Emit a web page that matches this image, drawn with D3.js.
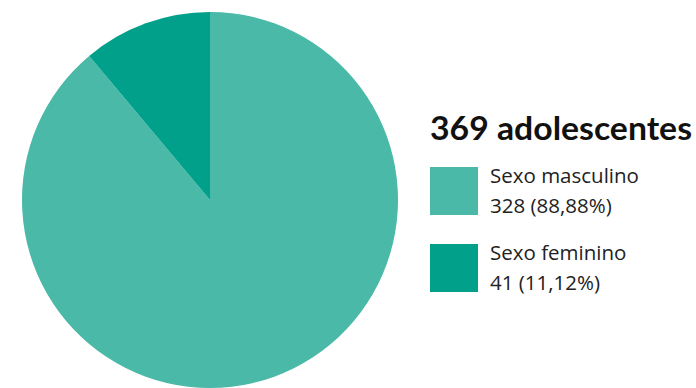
<!DOCTYPE html>
<html>
<head>
  <meta charset="utf-8">
  <script src="https://cdn.jsdelivr.net/npm/d3@7"></script>
  <style>
    html, body { margin: 0; padding: 0; background: #fff; }
    svg { display: block; font-family: "Open Sans", Lato, sans-serif; }
  </style>
</head>
<body>
  <svg id="chart" width="696" height="388"></svg>
  <script>
    const categories = ['Sexo masculino', 'Sexo feminino']
    const values = [328, 41]
    const shares = ['88,88%', '11,12%']
    const colors = ['#4ab9a8', '#00a08a']
    const title = '369 adolescentes'

    const svg = d3.select('#chart')
    const cx = 210, cy = 200, r = 188

    const pie = d3.pie().sort(null)
    const arc = d3.arc().innerRadius(0).outerRadius(r)

    svg.append('g')
      .attr('transform', `translate(${cx},${cy})`)
      .selectAll('path')
      .data(pie(values))
      .join('path')
      .attr('d', arc)
      .attr('fill', (d, i) => colors[i])

    const legend = svg.append('g').attr('transform', 'translate(430,0)')

    legend.append('text')
      .attr('x', 0).attr('y', 140)
      .attr('font-family', 'Lato, sans-serif')
      .attr('font-size', 32).attr('font-weight', 700)
      .attr('fill', '#111')
      .attr('textLength', 262)
      .attr('lengthAdjust', 'spacingAndGlyphs')
      .text(title)

    const item = legend.selectAll('g.item')
      .data(categories)
      .join('g')
      .attr('class', 'item')
      .attr('transform', (d, i) => `translate(0,${167 + i * 77})`)

    item.append('rect')
      .attr('width', 48).attr('height', 48)
      .attr('fill', (d, i) => colors[i])

    item.append('text')
      .attr('x', 60).attr('y', 16)
      .attr('font-size', 20.5).attr('fill', '#222')
      .text(d => d)

    item.append('text')
      .attr('x', 60).attr('y', 46)
      .attr('font-size', 20.5).attr('fill', '#222')
      .text((d, i) => `${values[i]} (${shares[i]})`)
  </script>
</body>
</html>
